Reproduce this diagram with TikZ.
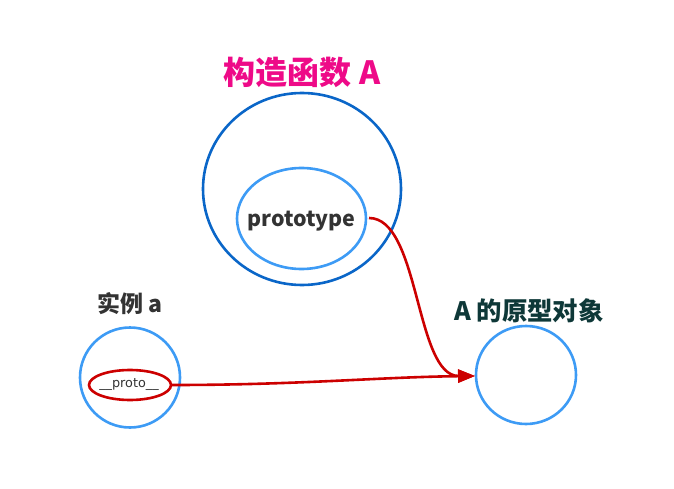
\documentclass[tikz,border=0pt]{standalone}
\usepackage{fontspec}
\setmainfont{Noto Sans CJK SC}
\newfontfamily\protofont{DejaVu Sans}
\usetikzlibrary{arrows.meta}
\definecolor{darkblue}{HTML}{0A66C8}
\definecolor{lightblue}{HTML}{3D9BF5}
\definecolor{arrred}{HTML}{CC0000}
\definecolor{titlemag}{HTML}{EE0A88}
\definecolor{txtgray}{HTML}{333333}
\definecolor{tealtxt}{HTML}{0E3838}
\tikzset{
  lbl/.style={text=txtgray, inner sep=0pt},
  link/.style={draw=arrred, line width=2.6pt, -{Triangle[length=17pt,width=13pt]}},
}
\begin{document}
\begin{tikzpicture}[x=1pt,y=-1pt]
\useasboundingbox (0,0) rectangle (674,489);
% constructor
\draw[darkblue, line width=2.6pt] (302,189) ellipse [x radius=99, y radius=96];
\draw[lightblue, line width=2.6pt] (301.5,218.5) ellipse [x radius=64.5, y radius=50.5];
\node[lbl, font=\bfseries\fontsize{21.4}{25}\selectfont] (proto) at (301.5,221) {prototype};
\coordinate (protoR) at (369,218);
\node[inner sep=0pt, text=titlemag, font=\bfseries\fontsize{32}{38}\selectfont] (title) at (302,72) {构造函数 A};
% instance
\draw[lightblue, line width=2.6pt] (130,377.5) circle [radius=50];
\node[lbl, font=\bfseries\fontsize{23}{27}\selectfont] (inst) at (130,304) {实例 a};
\draw[arrred, line width=2.6pt] (130,385) ellipse [x radius=41, y radius=15];
\node[lbl, font=\protofont\fontsize{12.8}{15}\selectfont] (pp) at (129,385) {\_\_proto\_\_};
\coordinate (ppR) at (172,385);
% prototype object
\draw[lightblue, line width=2.6pt] (526,375) ellipse [x radius=50, y radius=49];
\coordinate (objL) at (475,376);
\node[inner sep=0pt, text=tealtxt, font=\bfseries\fontsize{25.4}{30}\selectfont] (objlbl) at (529,311) {A 的原型对象};
% links
\draw[link] (protoR) .. controls (420,218) and (415,376) .. (objL);
\draw[link] (ppR) .. controls (300,385) and (380,377) .. (objL);
\end{tikzpicture}
\end{document}
